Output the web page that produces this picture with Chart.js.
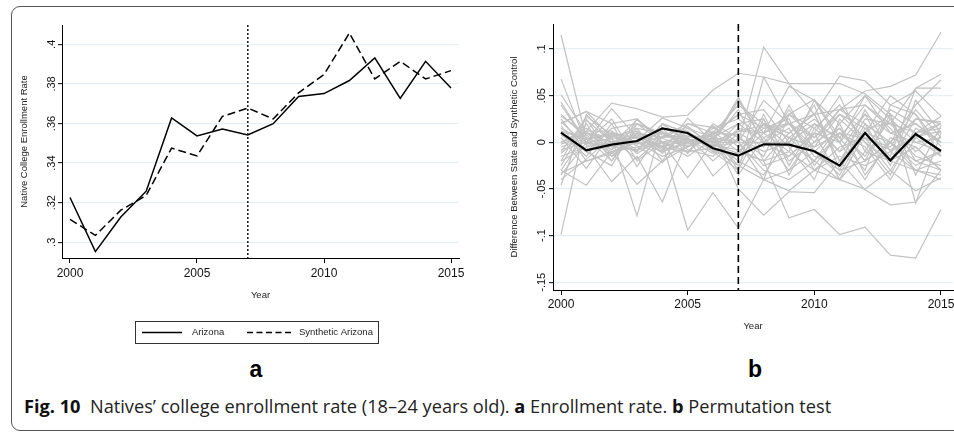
<!DOCTYPE html>
<html>
<head>
<meta charset="utf-8">
<script src="https://cdn.jsdelivr.net/npm/chart.js@4.4.1/dist/chart.umd.min.js"></script>
<style>
html,body{margin:0;padding:0;background:#fff;width:954px;height:433px;overflow:hidden;position:relative;}
#frame{position:absolute;left:11px;top:6px;width:1000px;height:423px;border:1px solid #555;border-radius:9px;}
canvas{position:absolute;top:0;}
#cA{left:0;}
#cB{left:480px;}
.panel{position:absolute;top:357px;width:60px;text-align:center;font:bold 23px "Liberation Sans",Arial,sans-serif;line-height:24px;color:#000;}
#caption{position:absolute;left:24px;top:394px;font:18.2px "Open Sans",sans-serif;line-height:24px;white-space:nowrap;color:#222;}
#caption b{color:#111;}
</style>
</head>
<body>
<div id="frame"></div>
<canvas id="cA" width="480" height="350"></canvas>
<canvas id="cB" width="474" height="350"></canvas>
<div class="panel" style="left:226px">a</div>
<div class="panel" style="left:725px">b</div>
<div id="caption"><b>Fig. 10</b>&nbsp; Natives’ college enrollment rate (18–24 years old). <b>a</b> Enrollment rate. <b>b</b> Permutation test</div>
<script>
// ---------- data ----------
const years = [2000,2001,2002,2003,2004,2005,2006,2007,2008,2009,2010,2011,2012,2013,2014,2015];
const treatmentYear = 2007;
const yearTicks = [2000,2005,2010,2015];

// Panel a
const arizona          = [0.3226,0.2953,0.3128,0.3258,0.3628,0.3537,0.3572,0.3542,0.3599,0.3736,0.3751,0.3817,0.3931,0.3727,0.3914,0.3779];
const syntheticArizona = [0.3116,0.3035,0.3162,0.3237,0.3476,0.3436,0.3636,0.3678,0.3623,0.3755,0.3847,0.4057,0.3825,0.3914,0.3825,0.3867];
const rateTicks = [0.30,0.32,0.34,0.36,0.38,0.40];
const rateTickLabels = ['.3','.32','.34','.36','.38','.4'];

// Panel b
const arizonaGap = [0.0104,-0.0086,-0.0025,0.0014,0.0150,0.0100,-0.0064,-0.0143,-0.0021,-0.0025,-0.0096,-0.0250,0.0100,-0.0193,0.0089,-0.0093];
const placeboGaps = [
  [0.028,0.010,0.000,0.005,0.010,0.003,0.000,0.012,0.010,0.020,0.005,0.030,0.015,0.020,0.010,0.015],
  [-0.033,-0.020,-0.010,-0.005,0.000,0.002,-0.003,-0.008,-0.020,-0.010,-0.030,-0.015,-0.025,-0.010,-0.030,-0.020],
  [0.020,0.033,0.005,0.015,0.010,-0.002,0.005,0.020,0.000,-0.015,0.010,0.000,0.030,0.010,0.000,0.005],
  [-0.010,0.025,-0.015,0.010,0.005,0.010,-0.010,-0.015,0.010,0.030,0.015,0.040,0.000,-0.020,0.025,0.020],
  [0.005,-0.028,0.010,0.000,-0.005,0.015,0.005,0.000,-0.030,-0.040,-0.020,0.020,-0.035,0.000,-0.030,-0.035],
  [0.015,0.000,0.036,0.005,-0.010,0.000,0.008,0.030,0.035,0.000,0.020,-0.010,0.010,0.050,0.030,-0.015],
  [-0.025,0.020,-0.020,0.025,0.000,-0.010,0.018,-0.005,0.015,0.025,-0.025,0.010,-0.015,0.025,0.000,-0.010],
  [0.010,-0.015,0.020,-0.026,0.015,0.005,-0.020,0.005,-0.010,0.000,0.040,-0.030,0.020,-0.025,0.045,0.010],
  [-0.005,0.005,-0.020,0.015,-0.020,0.020,0.010,-0.030,0.025,-0.020,0.000,0.035,0.040,0.015,-0.015,-0.025],
  [0.025,-0.010,0.015,0.020,0.000,-0.015,0.003,0.045,0.000,0.015,-0.030,-0.005,0.005,-0.030,0.010,0.028],
  [-0.015,-0.005,0.000,-0.010,0.020,0.010,0.000,-0.020,-0.035,0.005,0.025,0.000,-0.040,0.005,-0.005,-0.030],
  [0.000,0.015,-0.005,0.000,-0.015,-0.005,0.015,0.025,0.005,-0.030,0.010,0.050,-0.010,0.035,0.020,0.000],
  [0.012,0.003,0.010,-0.012,0.005,0.017,-0.005,0.000,0.045,0.020,-0.015,-0.025,0.035,-0.010,0.005,0.020],
  [-0.030,0.010,0.005,0.000,0.012,-0.008,-0.015,0.010,-0.005,0.035,0.000,0.015,-0.020,0.000,-0.025,-0.010],
  [0.018,-0.020,-0.012,0.008,-0.008,0.000,0.012,-0.010,0.020,-0.005,-0.040,0.025,0.000,-0.035,0.015,0.000],
  [-0.008,0.000,0.025,-0.020,0.000,0.008,0.002,0.035,-0.020,0.010,0.030,-0.020,0.025,0.020,-0.010,0.012],
  [0.030,0.005,-0.008,0.010,-0.012,0.012,-0.008,-0.025,0.030,-0.025,0.020,0.005,-0.030,0.040,0.030,-0.005],
  [-0.020,0.028,0.008,-0.008,0.015,-0.012,0.020,0.005,-0.015,0.040,-0.010,-0.035,0.015,-0.015,0.058,0.058],
  [0.008,-0.010,-0.025,0.020,0.008,0.004,-0.012,0.015,0.010,-0.010,0.045,0.020,0.050,0.025,-0.020,-0.030],
  [-0.012,0.012,0.012,-0.004,-0.022,0.006,0.006,-0.035,0.005,0.020,-0.005,0.030,0.005,-0.005,0.035,0.005],
  [0.022,-0.003,-0.003,0.024,0.004,-0.005,0.010,0.008,-0.025,-0.015,0.010,-0.040,0.010,0.030,-0.035,0.018],
  [-0.002,0.008,-0.015,0.002,0.026,0.015,-0.002,-0.012,0.020,0.005,-0.020,0.010,-0.005,-0.040,0.005,-0.015],
  [0.040,0.000,0.004,-0.018,0.006,0.020,0.016,0.000,-0.040,0.030,0.005,0.035,0.020,0.000,0.025,0.022],
  [-0.040,-0.018,0.006,0.012,-0.006,-0.010,-0.006,0.020,0.025,-0.035,0.015,-0.010,0.030,-0.020,-0.005,-0.030],
  [0.115,0.004,0.008,-0.002,0.006,0.003,-0.004,0.012,0.018,0.005,-0.005,0.010,0.004,-0.008,0.006,0.012],
  [-0.099,0.024,0.000,0.006,-0.004,0.002,0.008,0.030,0.015,0.020,0.030,0.035,0.055,0.060,0.072,0.118],
  [0.068,-0.002,0.010,0.004,-0.006,0.006,0.002,0.048,0.000,0.030,0.046,0.005,0.040,0.020,0.058,0.073],
  [0.051,0.010,-0.008,0.020,0.010,-0.004,0.005,0.000,0.102,0.063,0.030,-0.020,0.010,0.000,0.040,0.067],
  [-0.046,0.030,0.000,-0.010,0.020,0.010,-0.010,-0.030,0.070,0.020,-0.010,0.015,-0.020,0.030,-0.065,0.010],
  [0.000,0.012,0.042,0.036,0.027,0.029,0.056,0.074,0.070,0.063,0.063,0.063,0.052,0.030,0.010,0.020],
  [0.020,0.033,0.020,0.025,0.000,-0.010,0.010,0.040,0.020,0.010,0.030,0.071,0.066,0.040,0.055,0.028],
  [-0.030,-0.046,-0.010,-0.045,-0.020,-0.005,0.005,-0.025,-0.040,-0.052,-0.030,-0.040,-0.050,-0.030,-0.052,-0.038],
  [-0.020,-0.005,-0.042,-0.015,-0.064,0.005,-0.036,-0.010,-0.020,-0.081,-0.072,-0.099,-0.091,-0.121,-0.124,-0.072],
  [0.000,0.010,0.005,-0.079,0.020,0.000,0.010,-0.050,-0.078,-0.053,-0.054,-0.020,-0.051,-0.067,-0.064,-0.030],
  [0.010,-0.010,0.000,0.010,0.000,-0.094,-0.054,-0.092,-0.040,-0.030,-0.010,-0.030,-0.020,0.000,-0.020,-0.010],
  [0.043,0.000,-0.010,0.000,-0.010,0.026,0.000,0.045,0.010,0.060,0.045,0.000,0.050,0.010,0.020,0.000],
  [-0.035,0.000,-0.005,-0.008,0.000,-0.038,0.000,0.000,0.000,0.000,-0.020,-0.040,-0.010,-0.020,-0.030,-0.040]
];
const gapTicks = [-0.15,-0.10,-0.05,0,0.05,0.10];
const gapTickLabels = ['-.15','-.1','-.05','0','.05','.1'];

// ---------- helpers ----------
const FONT = '"Liberation Sans", Arial, sans-serif';
const toPoints = vals => vals.map((v,i) => ({x: years[i], y: v}));

function xScale(min, max, axisHeight, titlePadBottom, labelPad) {
  return {
    type: 'linear', min: min, max: max,
    afterBuildTicks: s => { s.ticks = yearTicks.map(v => ({value: v})); },
    afterFit: s => { s.height = axisHeight; s.paddingLeft = 0; s.paddingRight = 0; },
    ticks: {callback: v => String(v), font: {family: FONT, size: 12}, color: '#111',
            padding: labelPad, maxRotation: 0, minRotation: 0, autoSkip: false},
    grid: {drawOnChartArea: false, drawTicks: true, tickLength: 5, tickColor: '#000', tickWidth: 1},
    border: {display: true, color: '#000', width: 1},
    title: {display: true, text: 'Year', font: {family: FONT, size: 9.5}, color: '#222',
            padding: {top: 0, bottom: titlePadBottom}}
  };
}
function yScale(min, max, ticks, labels, width, title, titlePadTop, tickPad) {
  return {
    type: 'linear', min: min, max: max,
    afterBuildTicks: s => { s.ticks = ticks.map(v => ({value: v})); },
    afterFit: s => { s.width = width; },
    ticks: {callback: (v, i) => labels[i], minRotation: 90, maxRotation: 90, crossAlign: 'center',
            padding: tickPad, font: {family: FONT, size: 11}, color: '#111', autoSkip: false},
    grid: {color: '#e6eff1', lineWidth: 1.3, tickColor: '#000', tickLength: 4, tickWidth: 1, drawTicks: true},
    border: {display: true, color: '#000', width: 1},
    title: {display: true, text: title, font: {family: FONT, size: 9.5}, color: '#222',
            padding: {top: titlePadTop, bottom: 0}}
  };
}

const treatmentLine = {
  id: 'treatmentLine',
  afterDatasetsDraw(chart, args, opts) {
    const {ctx, chartArea, scales} = chart;
    const px = scales.x.getPixelForValue(treatmentYear);
    ctx.save();
    ctx.beginPath();
    ctx.setLineDash(opts.dash);
    ctx.lineWidth = opts.width;
    ctx.strokeStyle = opts.color;
    ctx.moveTo(px, chartArea.top);
    ctx.lineTo(px, chartArea.bottom);
    ctx.stroke();
    ctx.restore();
  }
};

const boxLegend = {
  id: 'boxLegend',
  afterDraw(chart, args, o) {
    const ctx = chart.ctx;
    ctx.save();
    ctx.lineWidth = 1;
    ctx.strokeStyle = '#333';
    ctx.setLineDash([]);
    ctx.strokeRect(o.left + 0.5, o.top + 0.5, o.width, o.height);
    const cy = o.top + o.height / 2 + 0.5;
    ctx.font = '9.5px ' + FONT;
    ctx.textBaseline = 'middle';
    ctx.fillStyle = '#222';
    chart.data.datasets.forEach((ds, i) => {
      const it = o.items[i];
      ctx.beginPath();
      ctx.setLineDash(ds.borderDash ? [6, 3.5] : []);
      ctx.lineWidth = 1.3;
      ctx.strokeStyle = '#000';
      ctx.moveTo(it.x0, cy);
      ctx.lineTo(it.x1, cy);
      ctx.stroke();
      ctx.fillText(ds.label, it.tx, cy);
    });
    ctx.restore();
  }
};

const common = {
  responsive: false, animation: false, devicePixelRatio: 1,
  elements: {point: {radius: 0, hoverRadius: 0}, line: {tension: 0}},
  events: []
};

// ---------- Panel a ----------
new Chart(document.getElementById('cA'), {
  type: 'line',
  data: {
    datasets: [
      {label: 'Arizona', data: toPoints(arizona), borderColor: '#000', borderWidth: 1.5, fill: false},
      {label: 'Synthetic Arizona', data: toPoints(syntheticArizona), borderColor: '#000', borderWidth: 1.5,
       borderDash: [8, 4], fill: false}
    ]
  },
  options: Object.assign({}, common, {
    layout: {padding: {left: 0, top: 25, right: 21, bottom: 0}},
    scales: {
      x: xScale(2000 - 8 / 25.4, 2015 + 8 / 25.4, 92, 49, 3),
      y: yScale(0.29207, 0.40975, rateTicks, rateTickLabels, 62, 'Native College Enrollment Rate', 19, -2)
    },
    plugins: {
      legend: {display: false}, tooltip: {enabled: false},
      treatmentLine: {dash: [2, 2], width: 1.6, color: '#222'},
      boxLegend: {left: 135, top: 321, width: 243, height: 22,
        items: [{x0: 142, x1: 182, tx: 192}, {x0: 247, x1: 291, tx: 299}]}
    }
  }),
  plugins: [treatmentLine, boxLegend]
});

// ---------- Panel b ----------
const gapDatasets = [
  {label: 'Arizona', data: toPoints(arizonaGap), borderColor: '#000', borderWidth: 2.2, fill: false}
].concat(placeboGaps.map((g, i) => ({
  label: 'Placebo ' + (i + 1), data: toPoints(g), borderColor: '#c2c2c2', borderWidth: 1.2, fill: false
})));

new Chart(document.getElementById('cB'), {
  type: 'line',
  data: {datasets: gapDatasets},
  options: Object.assign({}, common, {
    layout: {padding: {left: 0, top: 24, right: 1, bottom: 0}},
    scales: {
      x: xScale(2000 - 8 / 25.33, 2015 + 12 / 25.33, 60, 18, 2),
      y: yScale(-0.1583, 0.1268, gapTicks, gapTickLabels, 73, 'Difference Between State and Synthetic Control', 29, -2)
    },
    plugins: {
      legend: {display: false}, tooltip: {enabled: false},
      treatmentLine: {dash: [7, 4], width: 1.6, color: '#000'}
    }
  }),
  plugins: [treatmentLine]
});
</script>
</body>
</html>
